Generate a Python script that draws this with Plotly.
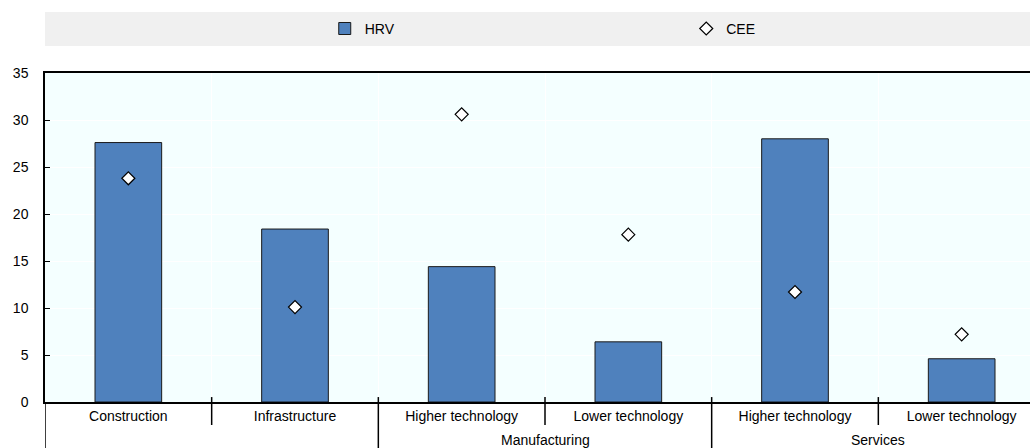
import plotly.graph_objects as go

# data
categories = ["Construction", "Infrastructure", "Higher technology", "Lower technology",
              "Higher technology", "Lower technology"]
groups = ["", "", "Manufacturing", "Manufacturing", "Services", "Services"]
hrv = [27.6, 18.4, 14.4, 6.4, 28.0, 4.6]
cee = [23.8, 10.1, 30.6, 17.8, 11.7, 7.2]
y_ticks = [0, 5, 10, 15, 20, 25, 30, 35]

FONT = "Liberation Sans, Arial, sans-serif"
pos = list(range(len(categories)))

fig = go.Figure()

fig.add_trace(go.Bar(x=pos, y=hrv, name="HRV", width=0.4, legend="legend", showlegend=True,
                     marker=dict(color="#4f81bd", line=dict(color="#1a1a1a", width=1))))
fig.add_trace(go.Scatter(x=pos, y=cee, name="CEE", mode="markers", legend="legend2",
                         showlegend=True,
                         marker=dict(symbol="diamond", size=10, color="white",
                                     line=dict(color="black", width=1.2))))

# grey band behind the legend
fig.add_shape(type="rect", xref="paper", yref="paper", x0=0, x1=1, y0=1.082, y1=1.1854,
              fillcolor="#f0f0f0", line=dict(width=0), layer="below")

# group separators under the axis
for i in range(len(categories) - 1):
    long_line = groups[i] != groups[i + 1]
    fig.add_shape(type="line", xref="x", yref="paper", x0=i + 0.5, x1=i + 0.5,
                  y0=0.015, y1=-0.14 if long_line else -0.07,
                  line=dict(color="black", width=1.5))
fig.add_shape(type="line", xref="x", yref="paper", x0=-0.5, x1=-0.5, y0=0, y1=-0.14,
              line=dict(color="black", width=1.5))

# outer group labels
for g in dict.fromkeys(groups):
    if not g:
        continue
    idx = [i for i, v in enumerate(groups) if v == g]
    fig.add_annotation(x=sum(idx) / len(idx), y=-0.1155, xref="x", yref="paper",
                       text=g, showarrow=False, yanchor="middle",
                       font=dict(family=FONT, size=14, color="black"))

leg = dict(orientation="h", xanchor="left", y=1.134, yanchor="middle",
           bgcolor="rgba(0,0,0,0)", font=dict(size=14), itemclick=False)

fig.update_layout(
    width=1030, height=448,
    showlegend=True,
    margin=dict(l=45, r=0, t=73, b=46, autoexpand=False),
    paper_bgcolor="white",
    plot_bgcolor="#f4ffff",
    font=dict(family=FONT, size=14, color="black"),
    legend=dict(leg, x=0.284),
    legend2=dict(leg, x=0.651),
    # the source chart runs a little past the right edge of the picture
    xaxis=dict(range=[-0.5, 5.41], tickvals=pos, ticktext=categories,
               showgrid=False, zeroline=False, showline=True, linecolor="black",
               linewidth=2, mirror=True, ticks="", ticklabelstandoff=0, automargin=False,
               minor=dict(tickvals=[i + 0.5 for i in pos[:-1]], showgrid=True,
                          gridcolor="white", gridwidth=1)),
    yaxis=dict(range=[0, 35], tickvals=y_ticks, showgrid=True, gridcolor="white",
               gridwidth=1, zeroline=False, showline=True, linecolor="black",
               linewidth=1.5, ticks="inside", ticklen=5, tickcolor="black",
               ticklabelstandoff=12, automargin=False),
)

# drop the browser's default body margin so the chart fills the window
fig.write_html("out.html", config={"displayModeBar": False},
               post_script="document.body.style.margin = '0';")
